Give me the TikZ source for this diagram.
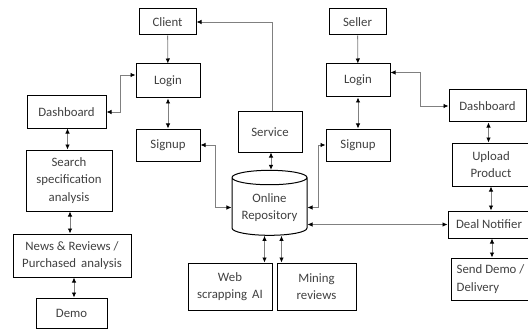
\documentclass[tikz,border=0pt]{standalone}
\usepackage{fontspec}
\setmainfont{Carlito}
\usetikzlibrary{shapes.geometric,arrows.meta}

\begin{document}
\begin{tikzpicture}[x=1pt, y=-1pt,
	 box/.style={draw, line width=1pt, align=center, inner sep=1pt,
	   font=\fontsize{12.8}{17.5}\selectfont, text=black!75},
	 conn/.style={draw=black!50, line width=0.8pt},
	 onearrow/.style={conn, -{Latex[length=5pt,width=4.5pt,color=black]}},
	 dblarrow/.style={conn, {Latex[length=5pt,width=4.5pt,color=black]}-{Latex[length=5pt,width=4.5pt,color=black]}}]
	\useasboundingbox (0,0) rectangle (528,329);
	\clip (0,0) rectangle (528,329);
	% client side
	\node (client) at (167.5,22) [box, minimum width=57pt, minimum height=26pt] {Client};
	\node (loginL) at (168,81) [box, minimum width=64pt, minimum height=34pt] {Login};
	\node (signupL) at (168,145) [box, minimum width=64pt, minimum height=32pt] {Signup};
	\node (dashL) at (66.5,112) [box, minimum width=79pt, minimum height=32pt] {Dashboard};
	\node (search) at (69,180.5) [box, minimum width=86pt, minimum height=61pt] {Search\\specification\\analysis};
	\node (news) at (72,255.5) [box, minimum width=118pt, minimum height=43pt] {News \& Reviews /\\Purchased\, analysis};
	\node (demo) at (71.5,313) [box, minimum width=71pt, minimum height=30pt] {Demo};
	% middle
	\node (service) at (270,132) [box, minimum width=64pt, minimum height=40pt] {Service};
	\node (repo) at (269.5,207.5) [box, cylinder, shape border rotate=90, aspect=0.25,
	   minimum width=75pt, minimum height=65pt] {Online\\Repository};
	\node (web) at (230,286.5) [box, minimum width=84pt, minimum height=47pt] {Web\\scrapping\, AI};
	\node (mining) at (316.5,286.5) [box, minimum width=79pt, minimum height=47pt] {Mining\\reviews};
	% seller side
	\node (seller) at (357.5,22) [box, minimum width=57pt, minimum height=26pt] {Seller};
	\node (loginR) at (358,80.5) [box, minimum width=64pt, minimum height=33pt] {Login};
	\node (signupR) at (358,145) [box, minimum width=64pt, minimum height=32pt] {Signup};
	\node (dashR) at (487.5,106) [box, minimum width=77pt, minimum height=32pt] {Dashboard};
	\node (upload) at (491,164.5) [box, minimum width=78pt, minimum height=43pt] {Upload\\Product};
	\node (deal) at (489,224.5) [box, minimum width=82pt, minimum height=27pt] {Deal Notifier};
	\node (send) at (490.5,279) [box, align=left, minimum width=79pt, minimum height=42pt] {Send Demo /\\Delivery};

	\draw[onearrow] (client) -- (loginL);
	\draw[dblarrow] (loginL) -- (signupL);
	\draw[dblarrow] ([yshift=6pt]loginL.west) -- ++(-15,0) |- (dashL.east);
	\draw[dblarrow] ([xshift=1pt]dashL.south) -- ([xshift=1pt]dashL.south |- search.north);
	\draw[dblarrow] ([xshift=1pt]search.south) -- ([xshift=1pt]search.south |- news.north);
	\draw[dblarrow] ([xshift=2pt]news.south) -- ([xshift=2pt]news.south |- demo.north);
	\draw[onearrow] ([xshift=2pt]service.north) |- (client.east);
	\draw[dblarrow] ([xshift=1pt]service.south) -- ([xshift=1pt]service.south |- repo.north);
	\draw[dblarrow] (repo.west) -- ++(-16,0) |- (signupL.east);
	\draw[dblarrow] (repo.east) -- ++(11,0) |- (signupR.west);
	\draw[dblarrow] (repo.east |- deal.west) -- (deal.west);
	\draw[dblarrow] ([xshift=-8pt]web.north east) -- ([xshift=-8pt]web.north east |- repo.south);
	\draw[dblarrow] ([xshift=5pt]mining.north west) -- ([xshift=5pt]mining.north west |- repo.south);
	\draw[onearrow] (seller) -- (loginR);
	\draw[dblarrow] (loginR) -- (signupR);
	\draw[dblarrow] ([yshift=8pt]loginR.east) -- ++(30,0) |- (dashR.west);
	\draw[dblarrow] ([xshift=1pt]dashR.south) -- ([xshift=1pt]dashR.south |- upload.north);
	\draw[dblarrow] (upload.south) -- (upload.south |- deal.north);
	\draw[dblarrow] ([xshift=3pt]deal.south) -- ([xshift=3pt]deal.south |- send.north);
\end{tikzpicture}
\end{document}
